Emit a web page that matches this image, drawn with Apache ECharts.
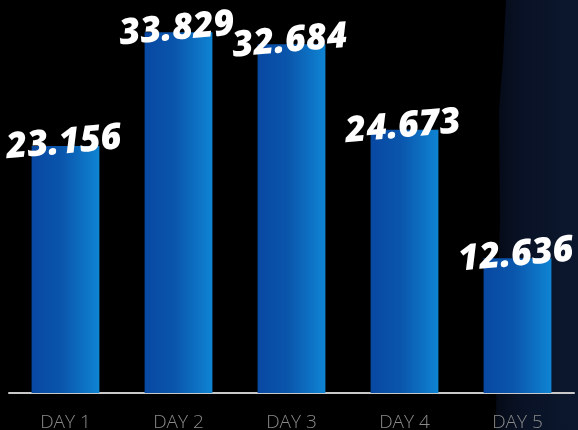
<!DOCTYPE html>
<html>
<head>
<meta charset="utf-8">
<script src="https://cdn.jsdelivr.net/npm/echarts@6/dist/echarts.min.js"></script>
<style>html,body{margin:0;padding:0;background:#000;}#c{width:578px;height:430px;}</style>
</head>
<body>
<div id="c"></div>
<script>
const categories = ['DAY 1', 'DAY 2', 'DAY 3', 'DAY 4', 'DAY 5'];
const values = [23.156, 33.829, 32.684, 24.673, 12.636];

const chart = echarts.init(document.getElementById('c'), null, {renderer: 'canvas'});
chart.setOption({
  backgroundColor: '#000',
  animation: false,
  graphic: [
    {
      type: 'polygon', z: -10, silent: true,
      shape: {points: [[506,0],[578,0],[578,430],[496,430],[497,320],[500,220],[499,110],[503,60]]},
      style: {fill: new echarts.graphic.LinearGradient(0, 0, 1, 0, [
        {offset: 0, color: '#050a16'},
        {offset: 0.3, color: '#091225'},
        {offset: 1, color: '#0c172e'}
      ])}
    }
  ],
  grid: {left: 9, right: 4, top: 9, bottom: 37, containLabel: false, outerBoundsMode: 'none'},
  xAxis: {
    type: 'category',
    data: categories,
    axisLine: {lineStyle: {color: '#c8c8c8', width: 2}},
    axisTick: {show: false},
    axisLabel: {color: '#8a8a8a', fontFamily: 'Open Sans', fontWeight: 300, fontSize: 19, margin: 20}
  },
  yAxis: {
    type: 'value', min: 0, max: 36,
    show: false,
    splitLine: {show: false}
  },
  series: [{
    type: 'bar',
    data: values,
    barWidth: '60%',
    itemStyle: {
      color: new echarts.graphic.LinearGradient(0, 0, 1, 0, [
        {offset: 0, color: '#0848a2'},
        {offset: 0.45, color: '#0a56ac'},
        {offset: 1, color: '#0f84d3'}
      ])
    },
    label: {
      show: true,
      position: 'top',
      distance: -15,
      rotate: 5,
      color: '#fff',
      fontFamily: 'Open Sans',
      fontStyle: 'italic',
      fontWeight: 800,
      fontSize: 36,
      formatter: p => p.value.toFixed(3)
    }
  }]
});
</script>
</body>
</html>
